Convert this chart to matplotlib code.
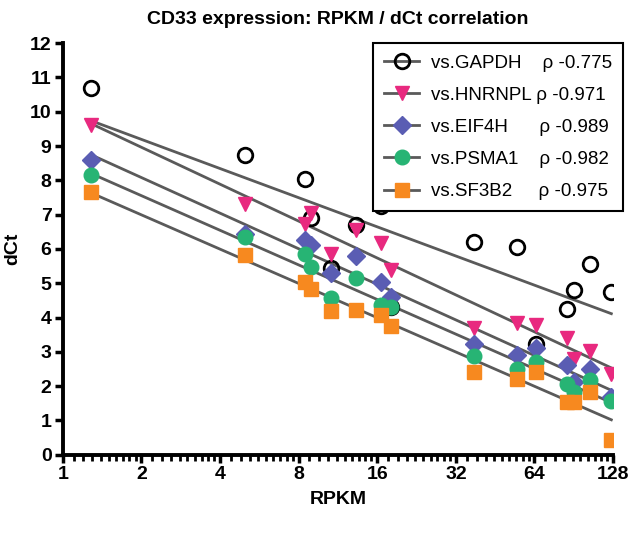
import numpy as np
import matplotlib
matplotlib.use("Agg")
import matplotlib.pyplot as plt
from matplotlib.ticker import FixedLocator, NullFormatter

plt.rcParams['font.family'] = ['Liberation Sans', 'DejaVu Sans']

# RPKM of each gene (x), shared by all five reference genes
rpkm = [1.28, 5.0, 8.5, 8.9, 10.6, 13.3, 16.6, 18.0, 37.5, 55.0, 65.0, 85.0, 91.0, 104.0, 126.0]

# dCt values against each reference gene
gapdh = [10.7, 8.73, 8.05, 6.90, 5.44, 6.69, 7.26, 4.32, 6.20, 6.05, 3.23, 4.25, 4.80, 5.57, 4.75]
hnrnpl = [9.6, 7.32, 6.73, 7.05, 5.84, 6.55, 6.17, 5.39, 3.69, 3.84, 3.78, 3.41, 2.78, 3.02, 2.35]
eif4h = [8.6, 6.45, 6.26, 6.11, 5.30, 5.80, 5.05, 4.60, 3.23, 2.90, 3.11, 2.62, 2.11, 2.49, 1.68]
psma1 = [8.15, 6.35, 5.84, 5.46, 4.57, 5.14, 4.37, 4.30, 2.87, 2.50, 2.71, 2.05, 1.82, 2.19, 1.57]
sf3b2 = [7.65, 5.83, 5.05, 4.84, 4.20, 4.23, 4.08, 3.75, 2.41, 2.20, 2.41, 1.55, 1.55, 1.84, 0.42]

labels = ["vs.GAPDH    \u03c1 -0.775", "vs.HNRNPL \u03c1 -0.971", "vs.EIF4H      \u03c1 -0.989",
          "vs.PSMA1    \u03c1 -0.982", "vs.SF3B2     \u03c1 -0.975"]

series = [gapdh, hnrnpl, eif4h, psma1, sf3b2]
styles = [
    dict(marker='o', mfc='none', mec='black', mew=2.0, ms=10.5),
    dict(marker='v', mfc='#E8297F', mec='#E8297F', ms=10.5),
    dict(marker='D', mfc='#5A5DB3', mec='#5A5DB3', ms=9),
    dict(marker='o', mfc='#27B474', mec='#27B474', ms=10.5),
    dict(marker='s', mfc='#F7891F', mec='#F7891F', ms=10),
]

fig = plt.figure(figsize=(6.4, 5.4), dpi=100)
ax = fig.add_axes([0.098, 0.158, 0.86, 0.762])

x = np.array(rpkm)
lx = np.log2(x)
xs = np.array([x.min(), x.max()])
for y, st, lab in zip(series, styles, labels):
    y = np.array(y)
    k, b = np.polyfit(lx, y, 1)
    ax.plot(xs, k * np.log2(xs) + b, color='#5a5a5a', lw=2.0, zorder=1)
    ax.plot(x, y, ls='none', zorder=3, **st)
    # legend handle: gray line with marker
    ax.plot([], [], color='#5a5a5a', lw=2.0, label=lab, **st)

ax.set_xscale('log', base=2)
ax.set_xlim(1, 128)
ax.set_ylim(0, 12)
major = [1, 2, 4, 8, 16, 32, 64, 128]
ax.set_xticks(major)
ax.set_xticklabels([str(m) for m in major])
minor = [m * (1 + k / 10) for m in major[:-1] for k in range(1, 10)]
ax.xaxis.set_minor_locator(FixedLocator(minor))
ax.xaxis.set_minor_formatter(NullFormatter())
ax.set_yticks(range(0, 13))

for s in ['top', 'right']:
    ax.spines[s].set_visible(False)
for s in ['left', 'bottom']:
    ax.spines[s].set_linewidth(2.8)
ax.tick_params(axis='both', which='major', width=2.5, length=6, labelsize=14, direction='out', pad=2)
ax.tick_params(axis='x', which='minor', width=2.0, length=4, direction='out')
for t in ax.get_xticklabels() + ax.get_yticklabels():
    t.set_fontweight('bold')

ax.set_xlabel("RPKM", fontsize=14, fontweight='bold', labelpad=6)
ax.set_ylabel("dCt", fontsize=14, fontweight='bold', labelpad=6)
ax.set_title("CD33 expression: RPKM / dCt correlation", fontsize=14, fontweight='bold', pad=14)

leg = ax.legend(loc='upper right', bbox_to_anchor=(1.018, 1.0), borderaxespad=0, fontsize=13.5,
                frameon=True, fancybox=False, edgecolor='black', handlelength=1.9,
                handletextpad=0.6, labelspacing=0.8, borderpad=0.6, framealpha=1)
leg.get_frame().set_linewidth(1.5)

fig.savefig("out.png", dpi=100)
